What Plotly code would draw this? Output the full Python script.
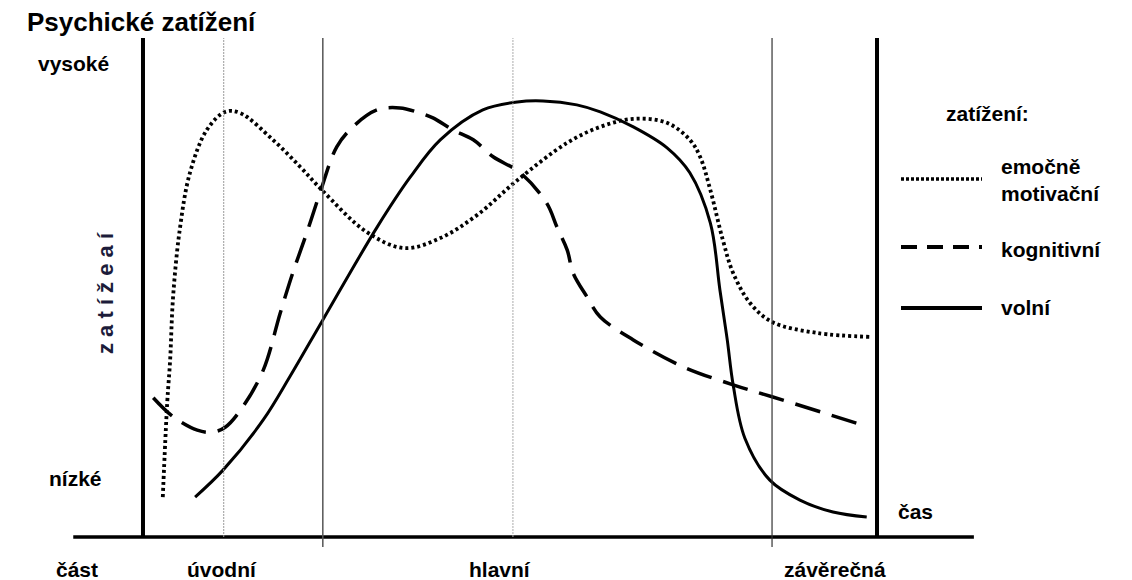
import plotly.graph_objects as go

# ---- data (time 0..100 between the two thick axes, load 0..100) ----
emo_t = [2.7, 3.3, 3.7, 4.1, 5.0, 6.4, 8.7, 11.2, 13.2, 17.7, 21.4, 24.4, 30.5, 35.6,
         40.5, 45.5, 51.0, 57.8, 62.3, 66.8, 71.4, 74.5, 75.9, 77.3, 79.0, 80.4,
         82.7, 85.7, 91.8, 99.1]
emo_v = [8.0, 26.9, 35.5, 48.1, 61.5, 73.0, 81.6, 85.2, 85.0, 79.6, 74.2, 69.5, 61.1, 57.9,
         59.9, 64.5, 71.5, 79.0, 82.2, 83.8, 83.0, 79.6, 76.2, 69.5, 59.5, 52.9,
         46.9, 43.1, 40.9, 40.1]

kog_t = [1.4, 4.1, 7.4, 9.4, 11.2, 13.6, 16.4, 18.7, 20.4, 22.3, 24.1, 26.4, 28.6, 31.9,
         35.0, 37.3, 39.5, 42.2, 45.0, 47.7, 51.4, 55.0, 56.4, 57.8, 58.6, 60.5,
         62.3, 66.8, 73.6, 80.4, 85.7, 98.1]
kog_v = [27.9, 24.1, 21.4, 21.0, 22.0, 26.1, 33.5, 44.9, 52.9, 60.9, 68.9, 78.2, 82.2, 85.6,
         86.0, 85.2, 84.0, 81.6, 79.6, 76.2, 73.0, 66.9, 62.1, 57.5, 52.9, 48.1,
         44.1, 39.5, 34.1, 30.5, 28.1, 22.4]

vol_t = [7.1, 10.9, 16.4, 20.0, 24.5, 31.9, 36.4, 40.5, 46.3, 51.0,
         54.5, 59.1, 62.3, 66.8, 71.4, 74.5, 77.3, 78.6, 79.6, 80.4, 82.0, 85.4,
         89.5, 94.0, 98.6]
vol_v = [8.0, 13.4, 23.5, 32.1, 43.5, 62.1, 72.1, 79.6, 85.6, 87.2,
         87.4, 86.6, 85.2, 82.2, 78.0, 73.0, 62.9, 49.5, 39.5, 30.5, 19.8, 11.4,
         7.4, 5.0, 4.0]

section_bounds = [11.0, 24.5, 50.4, 85.7]
section_labels = ["část", "úvodní", "hlavní", "závěrečná"]
series_names = ["emočně<br>motivační", "kognitivní", "volní"]

FONT = "Liberation Sans, Arial, sans-serif"

fig = go.Figure()
fig.add_trace(go.Scatter(x=emo_t, y=emo_v, mode="lines", line=dict(color="black", width=3.8, dash="3px,3px", shape="spline", smoothing=1.0), showlegend=False))
fig.add_trace(go.Scatter(x=kog_t, y=kog_v, mode="lines", line=dict(color="black", width=3.5, dash="26px,12px", shape="spline", smoothing=1.0), showlegend=False))
fig.add_trace(go.Scatter(x=vol_t, y=vol_v, mode="lines", line=dict(color="black", width=3, shape="spline", smoothing=1.0), showlegend=False))

shapes = []
# main axes
shapes.append(dict(type="line", x0=0, x1=0, y0=0, y1=100, line=dict(color="black", width=4)))
shapes.append(dict(type="line", x0=100, x1=100, y0=0, y1=100, line=dict(color="black", width=4)))
shapes.append(dict(type="line", x0=-9.5, x1=113.2, y0=0, y1=0, line=dict(color="black", width=3.5)))
# section dividers
shapes.append(dict(type="line", x0=section_bounds[0], x1=section_bounds[0], y0=0, y1=100, line=dict(color="#999999", width=1, dash="2px,1px")))
shapes.append(dict(type="line", x0=section_bounds[1], x1=section_bounds[1], y0=-2, y1=100, line=dict(color="#555555", width=1.5)))
shapes.append(dict(type="line", x0=section_bounds[2], x1=section_bounds[2], y0=0, y1=100, line=dict(color="#aaaaaa", width=1, dash="2px,1px")))
shapes.append(dict(type="line", x0=section_bounds[3], x1=section_bounds[3], y0=-2, y1=100, line=dict(color="#333333", width=1.2)))

# legend samples (paper coordinates)
W, H = 1132, 580
def px(x): return x / W
def py(y): return 1 - y / H
for yy, dash, w in [(179, "3px,2px", 3.5), (247, "16px,10px", 4), (308, "solid", 4)]:
    shapes.append(dict(type="line", xref="paper", yref="paper", x0=px(901), x1=px(982), y0=py(yy), y1=py(yy), line=dict(color="black", width=w, dash=dash)))

ann = []
def txt(s, x, y, size=21, xanchor="center", bold=True, color="black", angle=0):
    ann.append(dict(text=("<b>%s</b>" % s) if bold else s, x=px(x), y=py(y), xref="paper", yref="paper",
                    xanchor=xanchor, yanchor="middle", showarrow=False, textangle=angle, align=xanchor if xanchor != "center" else "center",
                    font=dict(family=FONT, size=size, color=color)))

txt("Psychické zatížení", 25, 22, size=26, xanchor="left")
txt("vysoké", 73, 63)
txt("nízké", 75, 478)
txt("čas", 915, 511)
label_x = [77, 222, 500, 835]
for lab, x in zip(section_labels, label_x):
    txt(lab, x, 569)
txt("z a t í ž e a í", 105, 293, size=22, bold=True, color="#1c1c3a", angle=-90)
txt("zatížení:", 987, 113)
legend_y = [180, 250, 307]
for name, y in zip(series_names, legend_y):
    txt(name, 999, y, xanchor="left")

fig.update_layout(
    width=W, height=H, margin=dict(l=0, r=0, t=0, b=0),
    paper_bgcolor="white", plot_bgcolor="white",
    xaxis=dict(range=[-19.48, 134.74], visible=False, fixedrange=True),
    yaxis=dict(range=[-8.62, 107.62], visible=False, fixedrange=True),
    shapes=shapes, annotations=ann, showlegend=False,
)
fig.write_html("out.html", config={"displayModeBar": False},
               post_script="document.body.style.margin='0';document.body.style.overflow='hidden';")
